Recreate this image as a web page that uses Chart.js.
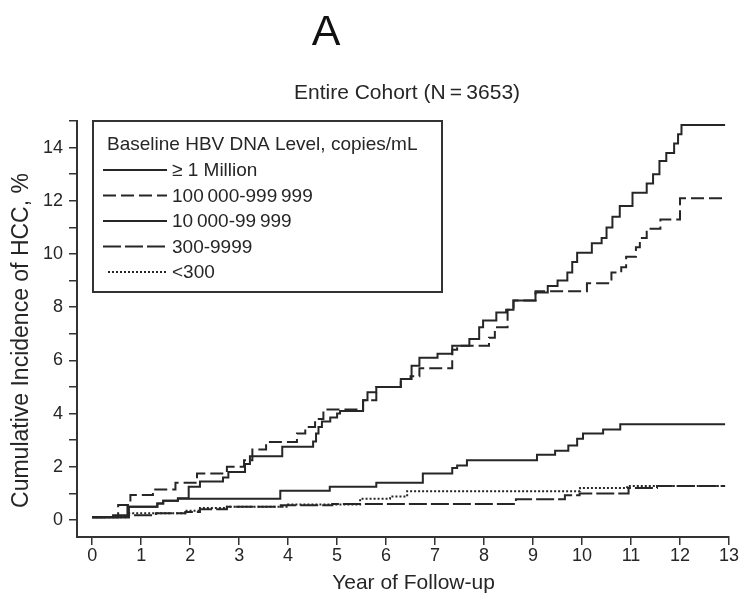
<!DOCTYPE html>
<html>
<head>
<meta charset="utf-8">
<script src="https://cdn.jsdelivr.net/npm/chart.js@4.4.1/dist/chart.umd.min.js"></script>
<style>
  html, body { margin: 0; padding: 0; background: #fff; }
  #wrap { width: 743px; height: 600px; }
</style>
</head>
<body>
<div id="wrap"><canvas id="chart" width="743" height="600"></canvas></div>
<script>
const FONT = "'Liberation Sans', Arial, Helvetica, sans-serif"
const INK = '#262626'

const panelLetter = 'A'
const cohortTitle = 'Entire Cohort (N\u2009=\u20093653)'
const legendTitle = 'Baseline HBV DNA Level, copies/mL'
const seriesLabels = ['\u2265 1 Million', '100\u2009000-999\u2009999', '10\u2009000-99\u2009999', '300-9999', '<300']

// Kaplan-Meier style steps: value holds from each year until the next one
const millionYears = [0, 0.72, 1.33, 1.45, 1.75, 1.97, 2.2, 2.67, 2.78, 3.12, 3.22, 3.88, 4.51, 4.57, 4.62, 4.69, 4.86, 5.0, 5.06, 5.53, 5.62, 5.8, 6.3, 6.52, 6.68, 7.05, 7.35, 7.7, 7.9, 7.98, 8.25, 8.45, 8.6, 9.05, 9.3, 9.5, 9.7, 9.8, 9.9, 10.2, 10.4, 10.5, 10.62, 10.77, 11.03, 11.32, 11.45, 11.58, 11.72, 11.88, 11.96, 12.03, 12.92]
const millionPct = [0.1, 0.5, 0.62, 0.72, 0.82, 1.25, 1.45, 1.6, 1.8, 2.1, 2.4, 2.75, 2.95, 3.25, 3.5, 3.7, 3.85, 4.0, 4.1, 4.5, 4.8, 5.0, 5.3, 5.8, 6.1, 6.25, 6.55, 6.8, 7.25, 7.5, 7.8, 7.9, 8.25, 8.55, 8.8, 9.0, 9.3, 9.7, 10.05, 10.4, 10.6, 11.0, 11.4, 11.8, 12.3, 12.65, 13.0, 13.5, 13.8, 14.15, 14.5, 14.85, 14.85]

const highYears = [0, 0.53, 0.78, 1.24, 1.7, 2.14, 2.75, 3.1, 3.27, 3.55, 4.18, 4.35, 4.55, 4.72, 5.53, 5.8, 6.3, 6.5, 6.68, 7.35, 7.45, 8.1, 8.22, 8.48, 8.6, 9.05, 10.1, 10.6, 10.8, 10.9, 11.1, 11.18, 11.32, 11.6, 12.0, 12.92]
const highPct = [0.1, 0.56, 0.94, 1.15, 1.4, 1.75, 2.0, 2.25, 2.65, 2.93, 3.25, 3.5, 3.8, 4.15, 4.5, 5.0, 5.3, 5.4, 5.7, 6.4, 6.55, 6.85, 7.25, 7.9, 8.25, 8.6, 8.9, 9.3, 9.5, 9.9, 10.25, 10.6, 10.95, 11.3, 12.1, 12.1]

const midYears = [0, 0.75, 1.33, 1.45, 1.75, 3.84, 4.85, 5.8, 6.75, 7.35, 7.45, 7.65, 9.08, 9.45, 9.72, 9.9, 10.02, 10.43, 10.78, 12.92]
const midPct = [0.1, 0.5, 0.62, 0.72, 0.8, 1.1, 1.25, 1.4, 1.75, 1.95, 2.05, 2.25, 2.45, 2.6, 2.8, 3.05, 3.25, 3.4, 3.6, 3.6]

const lowYears = [0, 0.4, 1.3, 1.9, 2.2, 2.75, 3.85, 4.9, 8.65, 9.65, 9.95, 10.95, 11.53, 12.92]
const lowPct = [0.1, 0.18, 0.25, 0.3, 0.4, 0.5, 0.55, 0.6, 0.78, 0.93, 1.0, 1.2, 1.28, 1.28]

const minYears = [0, 0.75, 1.9, 2.2, 2.75, 4.0, 5.47, 6.08, 6.43, 9.96, 10.92, 12.92]
const minPct = [0.1, 0.25, 0.35, 0.45, 0.5, 0.58, 0.8, 0.88, 1.08, 1.2, 1.28, 1.28]

const yearMin = -0.31
const yearMax = 13
const pctMin = -0.64
const pctMax = 15

const toPoints = (xs, ys) => xs.map((x, i) => ({ x, y: ys[i] }))

const series = [
  { years: millionYears, pct: millionPct, dash: [] , width: 2 },
  { years: highYears, pct: highPct, dash: [13, 5], width: 2 },
  { years: midYears, pct: midPct, dash: [], width: 2 },
  { years: lowYears, pct: lowPct, dash: [18, 4], width: 2 },
  { years: minYears, pct: minPct, dash: [2, 2], width: 2 },
]

const headerPlugin = {
  id: 'header',
  afterDraw(chart) {
    const ctx = chart.ctx
    ctx.save()
    ctx.textBaseline = 'alphabetic'
    ctx.textAlign = 'center'
    ctx.fillStyle = '#111'
    ctx.font = `43px ${FONT}`
    ctx.fillText(panelLetter, 326, 45)
    ctx.fillStyle = INK
    ctx.font = `21px ${FONT}`
    ctx.fillText(cohortTitle, 407, 99)
    ctx.restore()
  },
}

// boxed legend in the upper left of the plot
const boxLegend = {
  id: 'boxLegend',
  afterDraw(chart) {
    const ctx = chart.ctx
    ctx.save()
    ctx.strokeStyle = '#333'
    ctx.lineWidth = 2
    ctx.setLineDash([])
    ctx.strokeRect(93, 121, 349, 171)
    ctx.fillStyle = INK
    ctx.font = `19px ${FONT}`
    ctx.textAlign = 'left'
    ctx.textBaseline = 'alphabetic'
    ctx.fillText(legendTitle, 107, 150)
    chart.data.datasets.forEach((ds, i) => {
      const base = 176 + i * 25.5
      ctx.strokeStyle = ds.borderColor
      ctx.lineWidth = ds.borderWidth
      ctx.setLineDash(ds.borderDash)
      ctx.beginPath()
      ctx.moveTo(i === 4 ? 108 : 103, base - 6)
      ctx.lineTo(167, base - 6)
      ctx.stroke()
      ctx.fillText(ds.label, 172, base)
    })
    ctx.restore()
  },
}

new Chart(document.getElementById('chart'), {
  type: 'line',
  data: {
    datasets: series.map((s, i) => ({
      label: seriesLabels[i],
      data: toPoints(s.years, s.pct),
      stepped: 'before',
      borderColor: INK,
      borderWidth: s.width,
      borderDash: s.dash,
      pointRadius: 0,
      fill: false,
    })),
  },
  options: {
    responsive: false,
    animation: false,
    devicePixelRatio: 1,
    layout: { padding: { top: 121, right: 14, left: 0, bottom: 0 } },
    plugins: {
      legend: { display: false },
      tooltip: { enabled: false },
    },
    scales: {
      x: {
        type: 'linear',
        min: yearMin,
        max: yearMax,
        afterBuildTicks: (s) => {
          s.ticks = s.ticks.filter((t) => Number.isInteger(t.value) && t.value >= 0)
        },
        afterFit: (s) => { s.height = 63 },
        ticks: {
          stepSize: 1,
          includeBounds: false,
          autoSkip: false,
          maxRotation: 0,
          padding: 0,
          color: INK,
          font: { family: FONT, size: 18 },
        },
        grid: { drawOnChartArea: false, tickLength: 8, color: '#333', lineWidth: 1.5 },
        border: { display: true, color: '#333', width: 2 },
        title: {
          display: true,
          text: '\u2003Year of Follow-up',
          color: INK,
          font: { family: FONT, size: 21 },
          padding: { top: 0, bottom: 4 },
        },
      },
      y: {
        type: 'linear',
        min: pctMin,
        max: pctMax,
        afterBuildTicks: (s) => {
          s.ticks = s.ticks.filter((t) => Number.isInteger(t.value) && t.value >= 0)
        },
        afterFit: (s) => { s.width = 77 },
        ticks: {
          stepSize: 1,
          includeBounds: false,
          autoSkip: false,
          padding: 6,
          color: INK,
          font: { family: FONT, size: 18 },
          callback: (v) => (v % 2 === 0 ? String(v) : ''),
        },
        grid: { drawOnChartArea: false, tickLength: 8, color: '#333', lineWidth: 1.5 },
        border: { display: true, color: '#333', width: 2 },
        title: {
          display: true,
          text: 'Cumulative Incidence of HCC, %\u2003',
          color: INK,
          font: { family: FONT, size: 23 },
          padding: { top: 8, bottom: 0 },
        },
      },
    },
  },
  plugins: [headerPlugin, boxLegend],
})
</script>
</body>
</html>
